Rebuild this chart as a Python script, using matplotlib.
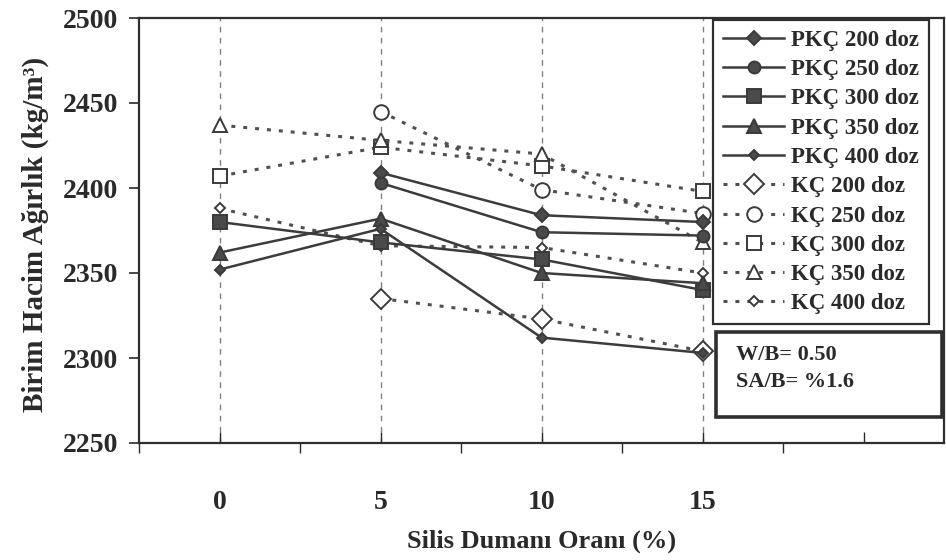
import numpy as np
import matplotlib
matplotlib.use("Agg")
import matplotlib.pyplot as plt
from matplotlib.patches import Rectangle

plt.rcParams['font.family'] = ['Liberation Serif', 'DejaVu Serif']
plt.rcParams['font.weight'] = 'bold'
plt.rcParams['axes.labelweight'] = 'bold'

# Silica fume ratio (%)
silica = [0, 5, 10, 15]
xtick_labels = ['0', '5', '10', '15', '']
yticks = [2250, 2300, 2350, 2400, 2450, 2500]

# Unit weight (kg/m3) - Portland composite cement (PKÇ) series
pkc200 = [np.nan, 2409, 2384, 2380]
pkc250 = [np.nan, 2403, 2374, 2372]
pkc300 = [2380, 2368, 2358, 2340]
pkc350 = [2362, 2382, 2350, 2344]
pkc400 = [2352, 2376, 2312, 2303]

# Unit weight (kg/m3) - composite cement (KÇ) series
kc200 = [np.nan, 2335, 2323, 2304]
kc250 = [np.nan, 2445, 2399, 2385]
kc300 = [2407, 2424, 2413, 2398]
kc350 = [2437, 2428, 2420, 2368]
kc400 = [2388, 2366, 2365, 2350]

labels = ['PKÇ 200 doz', 'PKÇ 250 doz', 'PKÇ 300 doz', 'PKÇ 350 doz', 'PKÇ 400 doz',
          'KÇ 200 doz', 'KÇ 250 doz', 'KÇ 300 doz', 'KÇ 350 doz', 'KÇ 400 doz']
values = [pkc200, pkc250, pkc300, pkc350, pkc400,
          kc200, kc250, kc300, kc350, kc400]
markers = ['D', 'o', 's', '^', 'D', 'D', 'o', 's', '^', 'D']
sizes = [6.8, 8.6, 9.5, 9.5, 5.0, 10.0, 10.5, 9.5, 10.5, 5.2]

fig = plt.figure(figsize=(9.46, 5.60), dpi=100)
ax = fig.add_axes([139 / 946, 1 - 443 / 560, (944 - 139) / 946, (443 - 18) / 560])

dark = '#3c3c3c'
for x in silica:
    ax.axvline(x, color='#808080', ls=(0, (4, 4)), lw=1.0, zorder=0)

for i, (lab, vals, mk, ms) in enumerate(zip(labels, values, markers, sizes)):
    solid = i < 5
    ax.plot(silica, vals,
            color=dark if solid else '#505050',
            ls='-' if solid else (0, (1.3, 2.6)),
            lw=1.8 if solid else 2.2,
            marker=mk, ms=ms,
            mfc='#4a4a4a' if solid else 'white',
            mec='#3a3a3a', mew=1.4,
            label=lab, zorder=3 if solid else 2)

ax.set_xlim(-2.5, 22.5)
ax.set_ylim(2250, 2500)
ax.set_yticks(yticks)
ax.set_xticks([0, 5, 10, 15, 20])
ax.set_xticklabels(xtick_labels)
ax.set_xticks([-2.5, 2.5, 7.5, 12.5, 17.5], minor=True)

ax.tick_params(axis='y', direction='out', length=7, width=1.2, labelsize=20, pad=8, colors='#2a2a2a')
ax.tick_params(axis='x', which='major', direction='in', length=8, width=1.0, labelsize=20, pad=34,
               colors='#2a2a2a')
ax.tick_params(axis='x', which='minor', direction='out', length=7, width=1.0, colors='#2a2a2a')

for sp in ax.spines.values():
    sp.set_linewidth(1.6)
    sp.set_color('#2f2f2f')

ax.set_ylabel('Birim Hacim Ağırlık (kg/m³)', fontsize=21, fontweight='bold', color='#2a2a2a')
ax.yaxis.set_label_coords(-0.112, 0.49)
ax.set_xlabel('Silis Dumanı Oranı (%)', fontsize=19, fontweight='bold', color='#2a2a2a')
ax.xaxis.set_label_coords(0.5, -0.203)

leg = ax.legend(loc='upper left', bbox_to_anchor=(0.713, 0.995), fontsize=16.5,
                frameon=True, fancybox=False, edgecolor='#2f2f2f', framealpha=1,
                handlelength=2.7, handletextpad=0.3, labelspacing=0.36, borderpad=0.42,
                borderaxespad=0.0)
leg.get_frame().set_linewidth(1.6)
for t in leg.get_texts():
    t.set_color('#2a2a2a')

box = Rectangle((0.717, 0.061), 0.281, 0.2, transform=ax.transAxes,
                facecolor='white', edgecolor='#2f2f2f', lw=2.6, zorder=6)
ax.add_patch(box)
ax.text(0.742, 0.207, 'W/B= 0.50', transform=ax.transAxes, fontsize=16,
        va='center', ha='left', color='#2a2a2a', zorder=7)
ax.text(0.742, 0.144, 'SA/B= %1.6', transform=ax.transAxes, fontsize=16,
        va='center', ha='left', color='#2a2a2a', zorder=7)

fig.savefig('out.png', dpi=100)
